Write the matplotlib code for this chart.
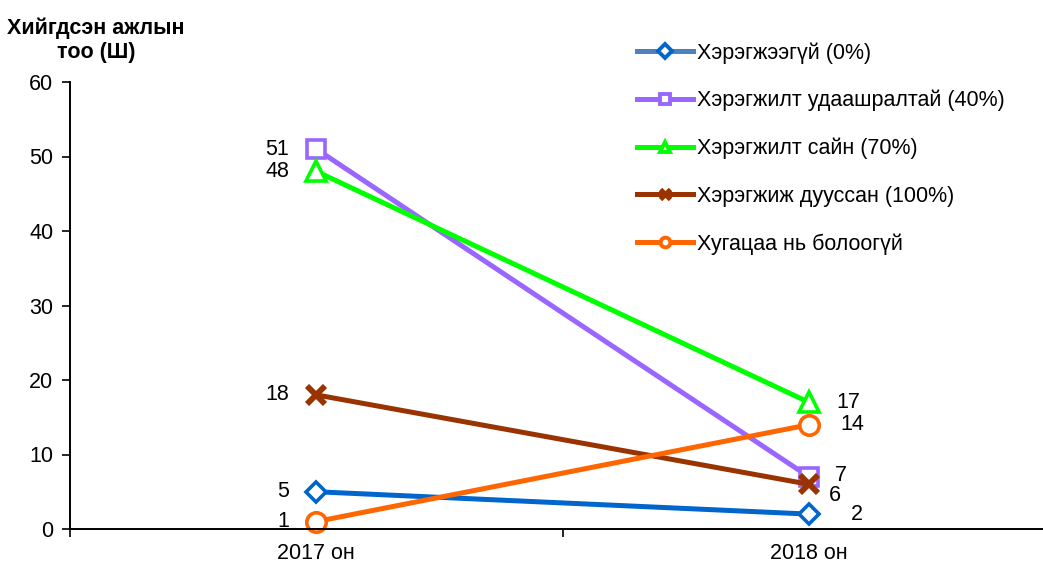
import matplotlib.pyplot as plt
from matplotlib.lines import Line2D

plt.rcParams['font.family'] = ['Liberation Sans', 'DejaVu Sans']

years = ['2017 он', '2018 он']
series_names = ['Хэрэгжээгүй (0%)', 'Хэрэгжилт удаашралтай (40%)', 'Хэрэгжилт сайн (70%)',
                'Хэрэгжиж дууссан (100%)', 'Хугацаа нь болоогүй']
not_done = [5, 2]
slow = [51, 7]
good = [48, 17]
finished = [18, 6]
not_due = [1, 14]
y_title = 'Хийгдсэн ажлын\nтоо (Ш)'
y_ticks = [0, 10, 20, 30, 40, 50, 60]

values = [not_done, slow, good, finished, not_due]
colors = ['#0066CC', '#9966FF', '#00FF00', '#993300', '#FF6600']
markers = ['D', 's', '^', 'x', 'o']
msizes = [10, 13, 14, 13, 14]
# label offsets in pixels (2017 left of point, 2018 right of point)
offsets = [[(-27, 0), (42, 0)],
           [(-27, 0), (26, 1)],
           [(-27, 0), (27, 0)],
           [(-27, 0), (20, -11)],
           [(-27, 0), (31, 0)]]

fig = plt.figure(figsize=(10.43, 5.63), dpi=100)
ax = fig.add_axes([70 / 1043, 1 - 529 / 563, 1 - 70 / 1043, (529 - 82) / 563])

x = list(range(len(years)))
for vals, c, m, ms, offs in zip(values, colors, markers, msizes, offsets):
    ax.plot(x, vals, color=c, lw=3.6, marker=m, ms=ms, mfc='white', mec=c,
            mew=2.6 if m != 'x' else 4.2, clip_on=False)
    for xi, v, (dx, dy) in zip(x, vals, offs):
        ax.annotate(str(v), (xi, v), xytext=(dx, dy), textcoords='offset pixels',
                    ha='right' if dx < 0 else 'left', va='center', fontsize=15.5)

ax.set_xlim(-0.5, 1.475)
ax.set_ylim(0, 60)
ax.set_yticks(y_ticks)
ax.set_xticks(x)
ax.set_xticklabels(years)
ax.set_xticks([-0.5, 0.5], minor=True)
ax.tick_params(axis='x', which='major', length=0, labelsize=15.5, pad=10)
ax.tick_params(axis='x', which='minor', length=6, width=1.2, direction='out')
ax.tick_params(axis='y', length=6, width=1.2, labelsize=15.5, pad=6)
for s in ['top', 'right']:
    ax.spines[s].set_visible(False)
for s in ['left', 'bottom']:
    ax.spines[s].set_linewidth(1.4)

fig.text(96 / 1043, 1 - 40 / 563, y_title, ha='center', va='center',
         fontsize=15.5, fontweight='bold', linespacing=1.2)

handles = []
legend_line_colors = ['#4F81BD', '#9966FF', '#00FF00', '#993300', '#FF6600']
for lc, c, m in zip(legend_line_colors, colors, markers):
    ln = Line2D([], [], color=lc, lw=3.6)
    mk = Line2D([], [], ls='none', marker=m, ms=7, mfc='white', mec=c,
                mew=2.8 if m != 'x' else 3.5)
    handles.append((ln, mk))
fig.legend(handles, series_names, loc='upper left',
           bbox_to_anchor=(637 / 1043, 1 - 42 / 563), frameon=False,
           fontsize=15.5, handlelength=2.6, handletextpad=0.2, labelspacing=1.23,
           borderaxespad=0, borderpad=0)

fig.savefig('out.png', dpi=100)
